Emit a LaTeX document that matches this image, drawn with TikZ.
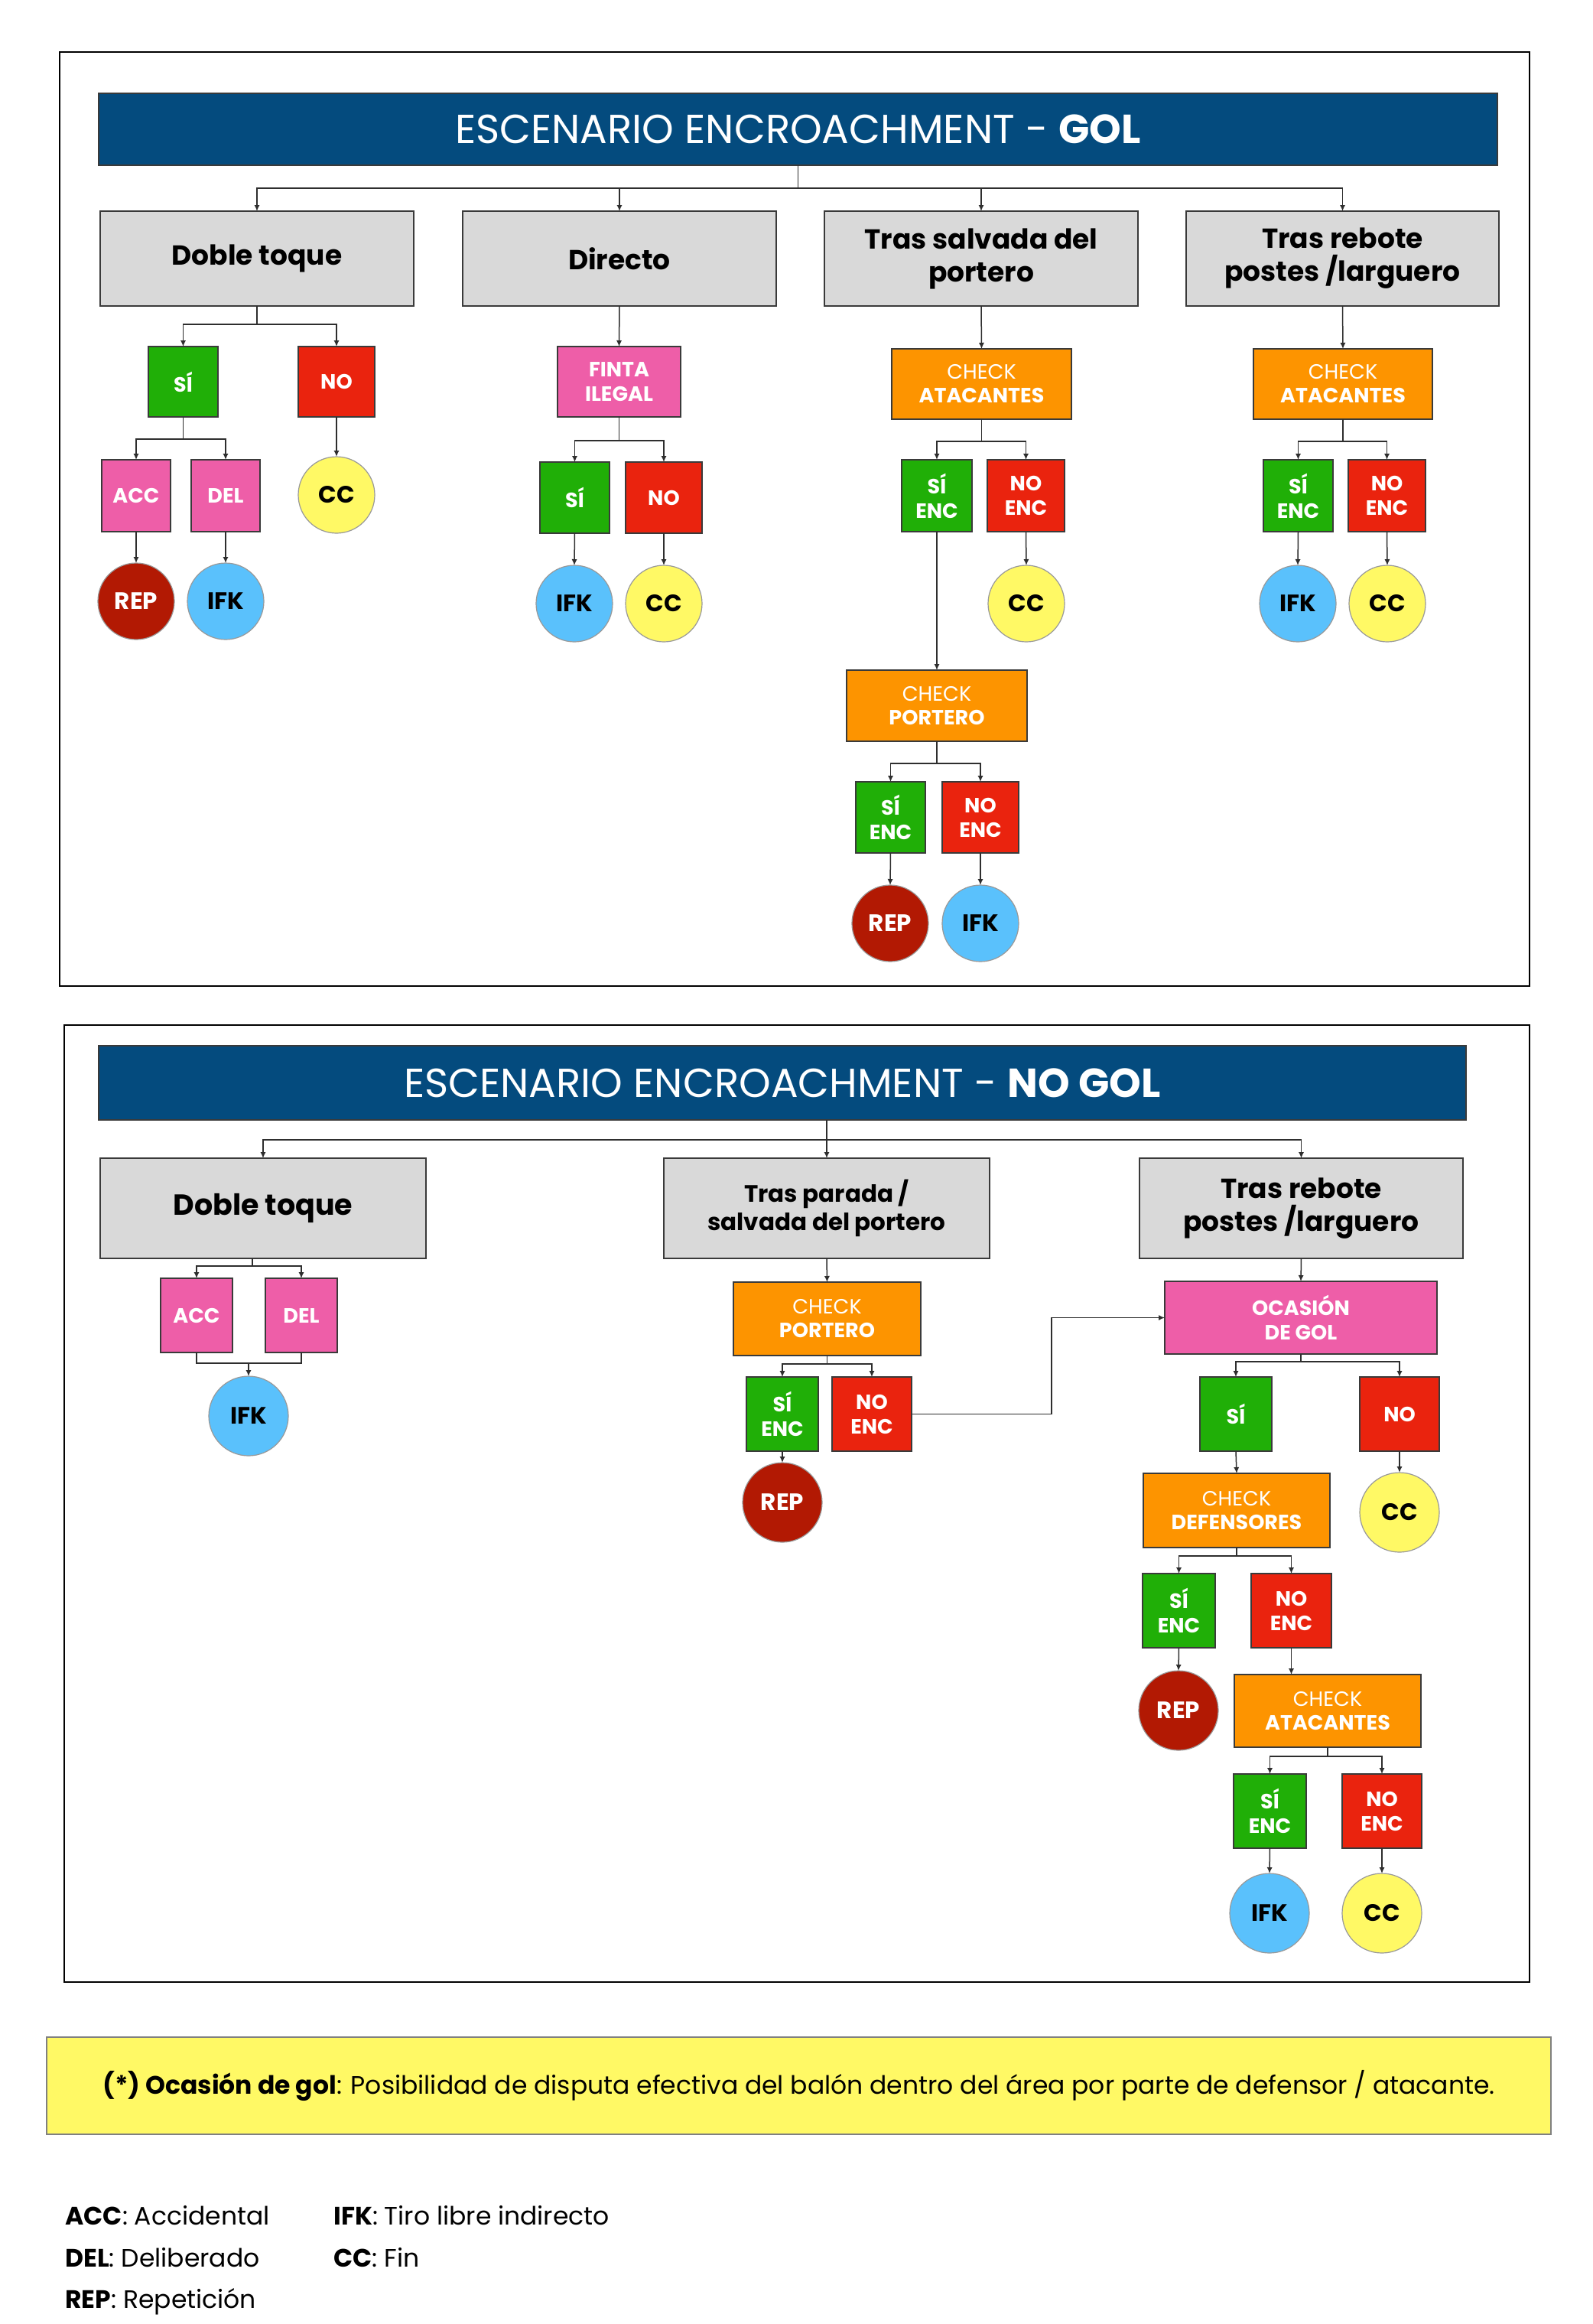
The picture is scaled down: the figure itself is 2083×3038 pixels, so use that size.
\documentclass[tikz,border=0pt]{standalone}
\usepackage{fontspec}
\setmainfont{Poppins}
\usetikzlibrary{arrows.meta,calc}
\definecolor{navy}{HTML}{044B7E}
\definecolor{grayc}{HTML}{D9D9D9}
\definecolor{bordc}{HTML}{3A3A3A}
\definecolor{greenc}{HTML}{20AF07}
\definecolor{redc}{HTML}{EA230E}
\definecolor{pinkc}{HTML}{EE5EA8}
\definecolor{orangec}{HTML}{FD9400}
\definecolor{darkredc}{HTML}{B21903}
\definecolor{bluec}{HTML}{5AC1FC}
\definecolor{yellowc}{HTML}{FFF965}
\definecolor{linec}{HTML}{2E2E2E}
\newcommand\R[7]{\node[#1, minimum width={(#5-#3)*0.5pt}, minimum height={(#6-#4)*0.5pt}] (#2) at ({(#3+#5)/2},{(#4+#6)/2}) {#7};}
\newcommand\C[6]{\node[#1, minimum size={#5*0.5pt}] (#2) at (#3,#4) {#6};}
\newcommand\fork[4]{\draw[arr] (#1.south) -- ++(0,#2) -| (#3.north);\draw[arr] (#1.south) -- ++(0,#2) -| (#4.north);}
\begin{document}
\begin{tikzpicture}[x=0.5pt,y=-0.5pt,
  box/.style={draw=bordc, line width=0.9pt, inner sep=0pt, outer sep=0pt, align=center, text=white, font=\fontsize{13.5}{16}\selectfont\bfseries},
  greybox/.style={box, fill=grayc, text=black, font=\fontsize{18}{21.5}\selectfont\bfseries},
  greysm/.style={greybox, font=\fontsize{15.5}{18.5}\selectfont\bfseries},
  greybig/.style={greybox, font=\fontsize{19}{22}\selectfont\bfseries},
  gbox/.style={box, fill=greenc},
  rbox/.style={box, fill=redc},
  pbox/.style={box, fill=pinkc},
  obox/.style={box, fill=orangec, font=\fontsize{13.5}{15.5}\selectfont},
  banner/.style={box, fill=navy, font=\fontsize{26.5}{30}\selectfont, draw=bordc},
  circ/.style={circle, draw=gray!80, line width=0.6pt, inner sep=0pt, outer sep=0pt, font=\fontsize{15.5}{18}\selectfont\bfseries},
  repc/.style={circ, fill=darkredc, text=white},
  ifkc/.style={circ, fill=bluec, text=black},
  ccc/.style={circ, fill=yellowc, text=black},
  frame/.style={draw=black, line width=1pt},
  arr/.style={draw=linec, line width=0.75pt, -{Latex[length=4pt,width=3.6pt]}},
  ln/.style={draw=linec, line width=0.75pt},
  notebox/.style={fill=yellowc, draw=gray, line width=0.8pt, inner sep=0pt, outer sep=0pt, font=\fontsize{16.5}{19}\selectfont},
  legend/.style={anchor=base west, inner sep=0pt, font=\fontsize{16.5}{19}\selectfont}
]
\useasboundingbox (0,0) rectangle (2083,3038);
\fill[white] (0,0) rectangle (2083,3038);

% ===== Panel 1 =====
\draw[frame] (78,68) rectangle (2000,1289);
\R{banner}{b1}{129}{122}{1958}{216}{ESCENARIO ENCROACHMENT - \textbf{GOL}}
\R{greybox}{dt1}{131}{276}{541}{400}{Doble toque}
\R{greybox}{di1}{605}{276}{1015}{400}{Directo}
\R{greybox}{ts1}{1078}{276}{1488}{400}{Tras salvada del\\portero}
\R{greybox}{tr1}{1551}{276}{1960}{400}{Tras rebote\\postes /larguero}
\foreach \n in {dt1,di1,ts1,tr1}{\draw[arr] (b1.south) -- ++(0,30) -| (\n.north);}

% Doble toque
\R{gbox}{si1}{194}{453}{285}{545}{SÍ}
\R{rbox}{no1}{390}{453}{490}{545}{NO}
\fork{dt1}{24}{si1}{no1}
\R{pbox}{acc1}{133}{601}{223}{695}{ACC}
\R{pbox}{del1}{250}{601}{340}{695}{DEL}
\fork{si1}{29}{acc1}{del1}
\C{ccc}{cc1}{440}{647}{100}{CC}
\draw[arr] (no1.south) -- (cc1.north);
\C{repc}{rep1}{178}{786}{100}{REP}
\C{ifkc}{ifk1}{295}{786}{100}{IFK}
\draw[arr] (acc1.south) -- (rep1.north);
\draw[arr] (del1.south) -- (ifk1.north);

% Directo
\R{pbox}{fi1}{729}{453}{890}{545}{FINTA\\ILEGAL}
\draw[arr] (di1.south) -- (fi1.north);
\R{gbox}{si2}{706}{604}{797}{697}{SÍ}
\R{rbox}{no2}{818}{604}{918}{697}{NO}
\fork{fi1}{31}{si2}{no2}
\C{ifkc}{ifk2}{751}{789}{100}{IFK}
\C{ccc}{cc2}{868}{789}{100}{CC}
\draw[arr] (si2.south) -- (ifk2.north);
\draw[arr] (no2.south) -- (cc2.north);

% Tras salvada
\R{obox}{ca1}{1166}{456}{1401}{548}{CHECK\\\textbf{ATACANTES}}
\draw[arr] (ts1.south) -- (ca1.north);
\R{gbox}{se1}{1179}{601}{1271}{695}{SÍ\\ENC}
\R{rbox}{ne1}{1291}{601}{1392}{695}{NO\\ENC}
\fork{ca1}{29}{se1}{ne1}
\C{ccc}{cc3}{1342}{789}{100}{CC}
\draw[arr] (ne1.south) -- (cc3.north);
\R{obox}{cp1}{1107}{876}{1343}{969}{CHECK\\\textbf{PORTERO}}
\draw[arr] (se1.south) -- (se1.south |- cp1.north);
\R{gbox}{se2}{1119}{1022}{1210}{1115}{SÍ\\ENC}
\R{rbox}{ne2}{1232}{1022}{1332}{1115}{NO\\ENC}
\fork{cp1}{29}{se2}{ne2}
\C{repc}{rep2}{1164}{1207}{100}{REP}
\C{ifkc}{ifk3}{1282}{1207}{100}{IFK}
\draw[arr] (se2.south) -- (rep2.north);
\draw[arr] (ne2.south) -- (ifk3.north);

% Tras rebote
\R{obox}{ca2}{1639}{456}{1873}{548}{CHECK\\\textbf{ATACANTES}}
\draw[arr] (tr1.south) -- (ca2.north);
\R{gbox}{se3}{1652}{601}{1743}{695}{SÍ\\ENC}
\R{rbox}{ne3}{1763}{601}{1864}{695}{NO\\ENC}
\fork{ca2}{29}{se3}{ne3}
\C{ifkc}{ifk4}{1697}{789}{100}{IFK}
\C{ccc}{cc4}{1814}{789}{100}{CC}
\draw[arr] (se3.south) -- (ifk4.north);
\draw[arr] (ne3.south) -- (cc4.north);

% ===== Panel 2 =====
\draw[frame] (84,1340) rectangle (2000,2591);
\R{banner}{b2}{129}{1367}{1917}{1464}{ESCENARIO ENCROACHMENT - \textbf{NO GOL}}
\R{greybig}{dt2}{131}{1514}{557}{1645}{Doble toque}
\R{greysm}{tp2}{868}{1514}{1294}{1645}{Tras parada /\\salvada del portero}
\R{greybox}{tr2}{1490}{1514}{1913}{1645}{Tras rebote\\postes /larguero}
\draw[arr] (b2.south -| tp2.north) -- (tp2.north);
\draw[arr] (b2.south -| tp2.north) -- ++(0,26) -| (dt2.north);
\draw[arr] (b2.south -| tp2.north) -- ++(0,26) -| (tr2.north);

% Doble toque 2
\R{pbox}{acc2}{210}{1671}{304}{1768}{ACC}
\R{pbox}{del2}{347}{1671}{441}{1768}{DEL}
\draw[arr] ([xshift=-7pt]dt2.south) -- ++(0,10) -| (acc2.north);
\draw[arr] ([xshift=-7pt]dt2.south) -- ++(0,10) -| (del2.north);
\C{ifkc}{ifk5}{325}{1851}{104}{IFK}
\coordinate (m1) at (325,1782);
\draw[ln] (acc2.south) |- (m1) -| (del2.south);
\draw[arr] (m1) -- (ifk5.north);

% Tras parada
\R{obox}{cp2}{959}{1676}{1204}{1772}{CHECK\\\textbf{PORTERO}}
\draw[arr] (tp2.south) -- (cp2.north);
\R{gbox}{se4}{976}{1800}{1070}{1897}{SÍ\\ENC}
\R{rbox}{ne4}{1088}{1800}{1192}{1897}{NO\\ENC}
\fork{cp2}{11}{se4}{ne4}
\C{repc}{rep3}{1023}{1964}{104}{REP}
\draw[arr] (se4.south) -- (rep3.north);

% Tras rebote 2
\R{pbox}{oc}{1523}{1675}{1879}{1770}{OCASIÓN\\DE GOL}
\draw[arr] (tr2.south) -- (oc.north);
\draw[arr] (ne4.east) -- ++(183,0) |- (oc.west);
\R{gbox}{si5}{1569}{1800}{1663}{1897}{SÍ}
\R{rbox}{no5}{1778}{1800}{1882}{1897}{NO}
\fork{oc}{10}{si5}{no5}
\R{obox}{cd}{1495}{1926}{1739}{2023}{CHECK\\\textbf{DEFENSORES}}
\C{ccc}{cc5}{1830}{1977}{104}{CC}
\draw[arr] (si5.south) -- (cd.north);
\draw[arr] (no5.south) -- (cc5.north);
\R{gbox}{se5}{1494}{2057}{1589}{2154}{SÍ\\ENC}
\R{rbox}{ne5}{1636}{2057}{1741}{2154}{NO\\ENC}
\fork{cd}{11}{se5}{ne5}
\C{repc}{rep4}{1541}{2236}{104}{REP}
\draw[arr] (se5.south) -- (rep4.north);
\R{obox}{ca3}{1614}{2189}{1858}{2284}{CHECK\\\textbf{ATACANTES}}
\draw[arr] (ne5.south) -- (ne5.south |- ca3.north);
\R{gbox}{se6}{1613}{2319}{1708}{2416}{SÍ\\ENC}
\R{rbox}{ne6}{1755}{2319}{1859}{2416}{NO\\ENC}
\fork{ca3}{12}{se6}{ne6}
\C{ifkc}{ifk6}{1660}{2501}{104}{IFK}
\C{ccc}{cc6}{1807}{2501}{104}{CC}
\draw[arr] (se6.south) -- (ifk6.north);
\draw[arr] (ne6.south) -- (cc6.north);

% ===== Footer =====
\R{notebox}{note}{61}{2663}{2028}{2790}{\textbf{(*) Ocasión de gol}: Posibilidad de disputa efectiva del balón dentro del área por parte de defensor / atacante.}
\node[legend] (l1) at (85,2908) {\textbf{ACC}: Accidental};
\node[legend] (l2) at (85,2963) {\textbf{DEL}: Deliberado};
\node[legend] (l3) at (85,3017) {\textbf{REP}: Repetición};
\node[legend] (l4) at (436,2908) {\textbf{IFK}: Tiro libre indirecto};
\node[legend] (l5) at (436,2963) {\textbf{CC}: Fin};
\end{tikzpicture}
\end{document}
